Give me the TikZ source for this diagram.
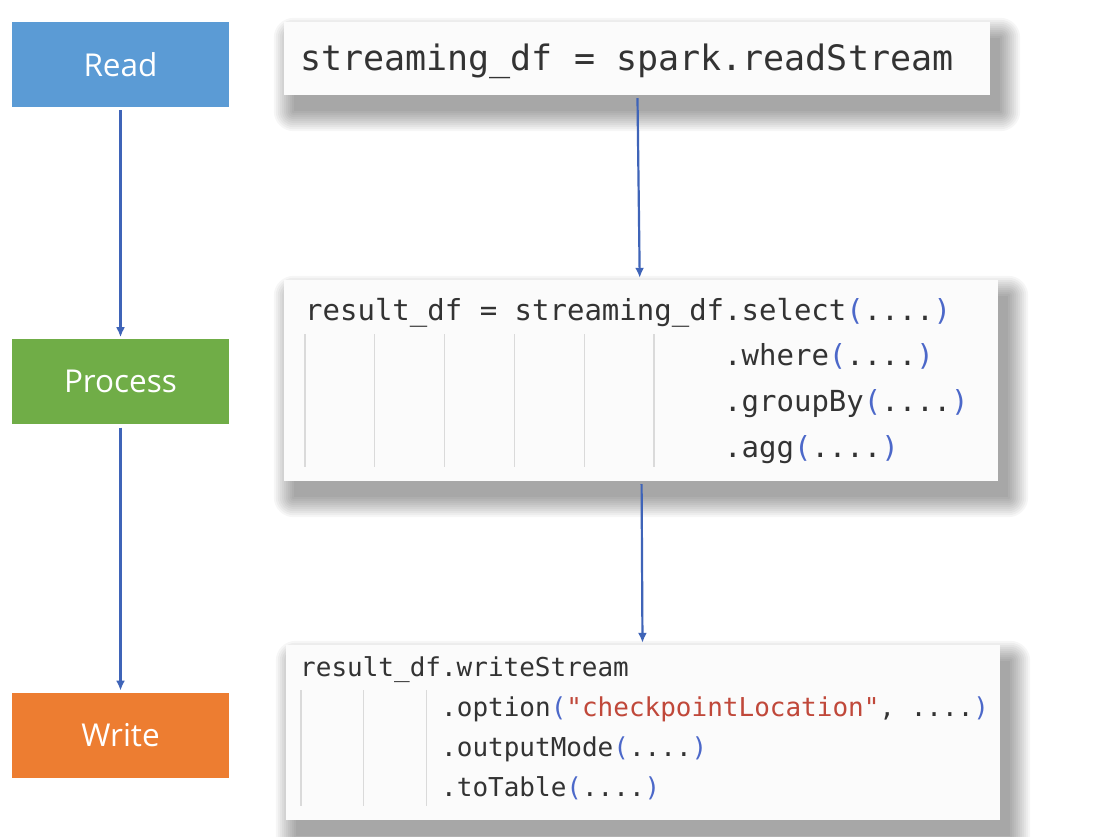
\documentclass[tikz,border=0pt]{standalone}
\usepackage{fontspec}
\usepackage{xcolor}
\usetikzlibrary{arrows.meta, positioning}
\newfontfamily\labelfont{Open Sans}
\newfontfamily\codefont{DejaVu Sans Mono}
\definecolor{readblue}{HTML}{5B9BD5}
\definecolor{processgreen}{HTML}{70AD47}
\definecolor{writeorange}{HTML}{ED7D31}
\definecolor{flowblue}{HTML}{3F64B8}
\definecolor{codegray}{HTML}{333333}
\definecolor{parenblue}{HTML}{4C68C9}
\definecolor{stringred}{HTML}{C0483A}
\definecolor{guidegray}{HTML}{DADADA}
\definecolor{codebg}{HTML}{FBFBFB}
\newcommand{\codeargs}{\textcolor{parenblue}{(}....\textcolor{parenblue}{)}}
\pgfdeclarelayer{shadow}
\pgfsetlayers{shadow,main}

\begin{document}
\begin{tikzpicture}[
    x=1pt, y=-1pt,
    stage/.style={rectangle, minimum width=217pt, minimum height=85pt, inner sep=0, text=white, font=\labelfont\fontsize{31.5}{38}\selectfont},
    codebox/.style={rectangle, fill=codebg, inner sep=0},
    softshadow/.style={fill=black, opacity=0.035},
    code/.style={anchor=base west, inner sep=0, text=codegray},
    guide/.style={draw=guidegray, line width=1.2pt},
    arrow/.style={-{Latex[length=10pt, width=9pt]}, line width=2.2pt, draw=flowblue, shorten <=3pt, shorten >=2pt}
]
    \useasboundingbox (0,0) rectangle (1116,836);

    \node[stage, fill=readblue] (read) at (120.5,64.5) {Read};
    \node[stage, fill=processgreen, below=232pt of read] (process) {Process};
    \node[stage, fill=writeorange, below=268pt of process] (write) {Write};

    \node[codebox, minimum width=706pt, minimum height=73pt] (readcode) at (637,58.5) {};
    \node[codebox, minimum width=714pt, minimum height=201pt] (processcode) at (641,380.5) {};
    \node[codebox, minimum width=714pt, minimum height=175pt] (writecode) at (643,732.5) {};

    \begin{pgfonlayer}{shadow}
        \fill[white] (0,0) rectangle (1116,836);
        \foreach \cb in {readcode, processcode, writecode}
            \foreach \r in {0,2,...,20}
                \fill[softshadow, rounded corners=\r pt] ([xshift=10pt-\r pt, yshift=-16pt+\r pt]\cb.north west) rectangle ([xshift=10pt+\r pt, yshift=-16pt-\r pt]\cb.south east);
    \end{pgfonlayer}

    \node[code, font=\codefont\fontsize{35}{42}\selectfont] (readline) at (300,70) {streaming\_df = spark.readStream};

    \begin{scope}[font=\codefont\fontsize{29}{35}\selectfont]
        \node[code] (select) at (305,320) {result\_df = streaming\_df.select\codeargs};
        \node[code] (where) at (724,365) {.where\codeargs};
        \node[code] (groupby) at (724,411) {.groupBy\codeargs};
        \node[code] (agg) at (724,457) {.agg\codeargs};
    \end{scope}
    \foreach \i in {0,...,5}
        \draw[guide] (305+\i*69.8,334) -- (305+\i*69.8,467);

    \begin{scope}[font=\codefont\fontsize{26}{31}\selectfont]
        \node[code] (writestream) at (300,676) {result\_df.writeStream};
        \node[code] (option) at (441,716) {.option\textcolor{parenblue}{(}\textcolor{stringred}{"checkpointLocation"}, ....\textcolor{parenblue}{)}};
        \node[code] (outputmode) at (441,756) {.outputMode\codeargs};
        \node[code] (totable) at (441,796) {.toTable\codeargs};
    \end{scope}
    \foreach \i in {0,...,2}
        \draw[guide] (301+\i*62.6,690) -- (301+\i*62.6,806);

    \draw[arrow] (read) -- (process);
    \draw[arrow] (process) -- (write);
    \draw[arrow] (readcode) -- (processcode);
    \draw[arrow] (processcode) -- (writecode);
\end{tikzpicture}
\end{document}
